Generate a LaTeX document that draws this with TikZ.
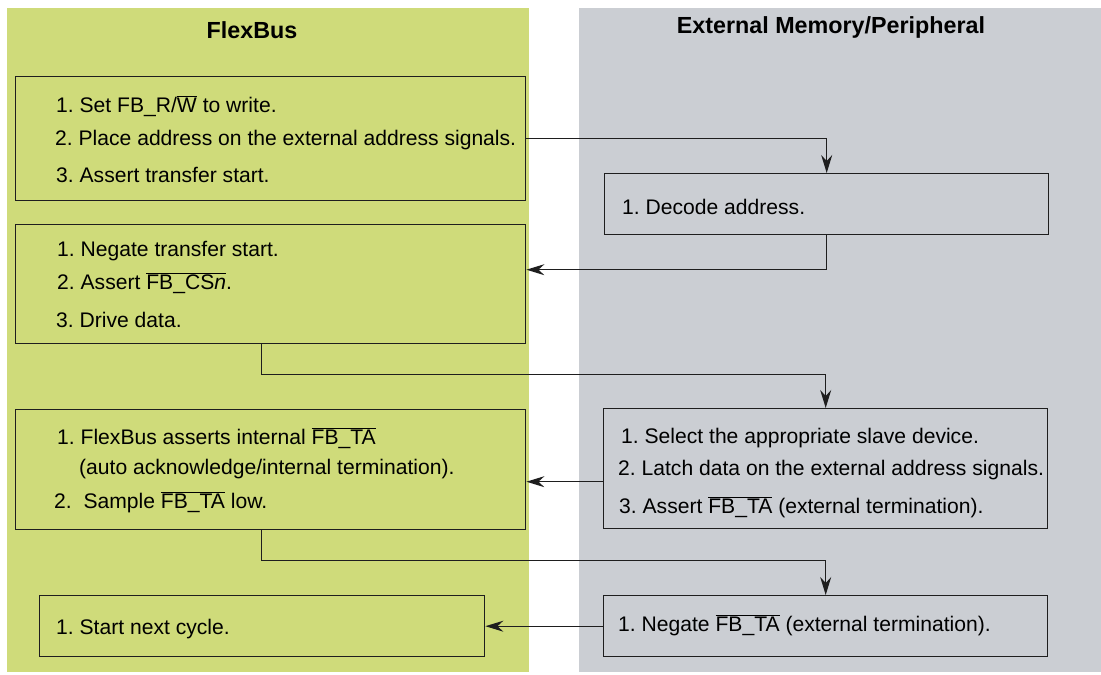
\documentclass[tikz,border=0pt]{standalone}
\usepackage{fontspec}
\setmainfont{Liberation Sans}
\usetikzlibrary{arrows.meta}
\definecolor{fbgreen}{RGB}{207,219,122}
\definecolor{memgray}{RGB}{203,206,211}
\definecolor{edge}{RGB}{30,30,30}
\newcommand\ovl[1]{$\overline{\hbox{#1}}$}
\frenchspacing
\begin{document}
\begin{tikzpicture}[x=1pt,y=-1pt,
  font=\fontsize{21.1}{24}\selectfont\frenchspacing,
  panel/.style={draw=none,inner sep=0pt,outer sep=0pt,anchor=north west},
  head/.style={anchor=base,inner sep=0pt,font=\fontsize{23.3}{26}\selectfont\bfseries},
  stepbox/.style={draw=edge,line width=1.4pt,inner sep=0pt,anchor=north west},
  txt/.style={anchor=base west,inner sep=0pt},
  arr/.style={draw=edge,line width=1.2pt,-{Stealth[length=18pt,width=11pt,inset=6pt]}}]
\useasboundingbox (0,0) rectangle (1101,675);
% panels
\node[panel,fill=fbgreen,minimum width=522pt,minimum height=664pt] (flexpanel) at (7,8) {};
\node[panel,fill=memgray,minimum width=522pt,minimum height=664pt] (mempanel) at (579,8) {};
\node[head] (hflex) at (252,38) {FlexBus};
\node[head] (hmem) at (831,33) {External Memory/Peripheral};
% boxes
\node[stepbox,minimum width=510pt,minimum height=124pt] (A1) at (15,76) {};
\node[stepbox,minimum width=444pt,minimum height=61pt] (B1) at (604,173) {};
\node[stepbox,minimum width=510pt,minimum height=119pt] (A2) at (15,224) {};
\node[stepbox,minimum width=444pt,minimum height=120pt] (B2) at (603,408) {};
\node[stepbox,minimum width=510pt,minimum height=120pt] (A3) at (15,409) {};
\node[stepbox,minimum width=444pt,minimum height=61pt] (B3) at (603,595) {};
\node[stepbox,minimum width=445pt,minimum height=61pt] (A4) at (39,595) {};
% texts
\node[txt] (a11) at (56,112) {1. Set FB\_R/\ovl{W} to write.};
\node[txt] (a12) at (55,145) {2. Place address on the external address signals.};
\node[txt] (a13) at (56,182) {3. Assert transfer start.};
\node[txt] (b11) at (622,214) {1. Decode address.};
\node[txt] (a21) at (57,256) {1. Negate transfer start.};
\node[txt] (a22) at (57,289) {2. Assert \ovl{FB\_CS\textit{n}}.};
\node[txt] (a23) at (56,327) {3. Drive data.};
\node[txt] (b21) at (621,443) {1. Select the appropriate slave device.};
\node[txt] (b22) at (618,475) {2. Latch data on the external address signals.};
\node[txt] (b23) at (619,513) {3. Assert \ovl{FB\_TA} (external termination).};
\node[txt] (a31) at (57,444) {1. FlexBus asserts internal \ovl{FB\_TA}};
\node[txt] (a32) at (79,474) {(auto acknowledge/internal termination).};
\node[txt] (a33) at (54,508) {2.\ \ Sample \ovl{FB\_TA} low.};
\node[txt] (b31) at (618,631) {1. Negate \ovl{FB\_TA} (external termination).};
\node[txt] (a41) at (56,634) {1. Start next cycle.};
% connectors
\draw[arr] (A1.east) -| (B1.north);
\draw[arr] (B1.south) |- ([yshift=14.5pt]A2.east);
\draw[arr] ([xshift=-9pt]A2.south) -- ++(0,30) -| (B2.north);
\draw[arr] ([yshift=-13pt]B2.west) -- ([yshift=-13pt]B2.west -| A3.east);
\draw[arr] ([xshift=-9pt]A3.south) -- ++(0,30) -| (B3.north);
\draw[arr] (B3.west) -- (A4.east);
\end{tikzpicture}
\end{document}
